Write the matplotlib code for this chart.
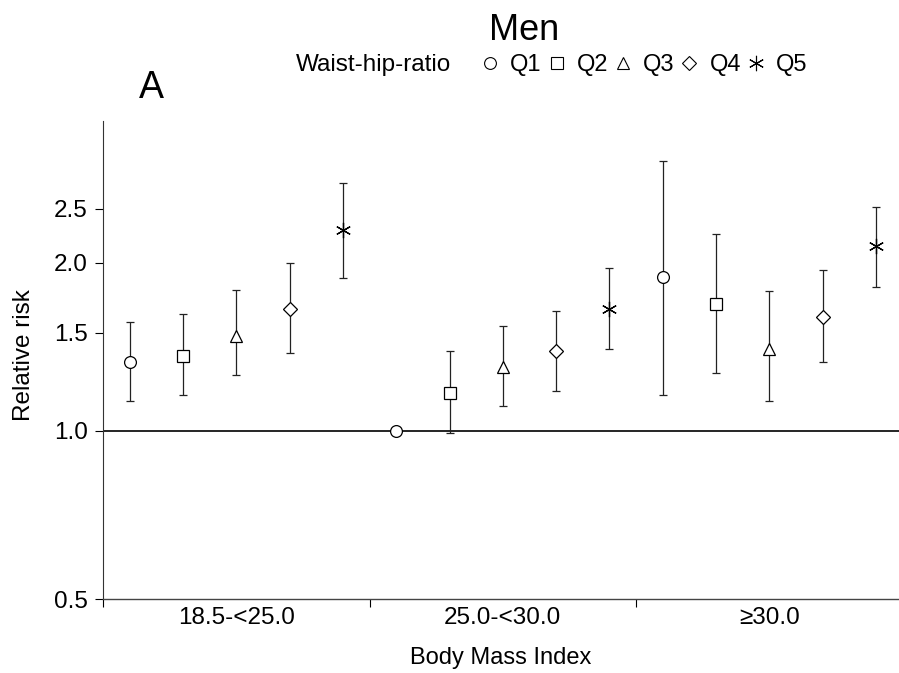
import matplotlib
matplotlib.use('Agg')
import matplotlib.pyplot as plt
from matplotlib.lines import Line2D
from matplotlib.ticker import FixedLocator, NullFormatter, FixedFormatter

plt.rcParams['font.family'] = ['Liberation Sans', 'DejaVu Sans']

# BMI groups and waist-hip-ratio quintiles
bmi_groups = ['18.5-<25.0', '25.0-<30.0', '\u226530.0']
quintiles = ['Q1', 'Q2', 'Q3', 'Q4', 'Q5']

# relative risk per group (rows) and quintile (columns)
rr = [
    [1.33, 1.36, 1.48, 1.65, 2.29],
    [1.00, 1.17, 1.30, 1.39, 1.65],
    [1.89, 1.69, 1.40, 1.60, 2.14],
]
rr_low = [
    [1.13, 1.16, 1.26, 1.38, 1.88],
    [1.00, 0.99, 1.11, 1.18, 1.40],
    [1.16, 1.27, 1.13, 1.33, 1.81],
]
rr_high = [
    [1.57, 1.62, 1.79, 2.00, 2.78],
    [1.00, 1.39, 1.54, 1.64, 1.96],
    [3.04, 2.25, 1.78, 1.94, 2.52],
]

markers = ['o', 's', '^', 'D', (6, 2, 0)]
msizes = [8.5, 8.5, 9, 7, 11]

y_ticks = [0.5, 1.0, 1.5, 2.0, 2.5]
y_labels = ['0.5', '1.0', '1.5', '2.0', '2.5']

fig = plt.figure(figsize=(8.99, 6.73), dpi=100)
ax = fig.add_axes([103 / 899, 1 - 599 / 673, 1 - 103 / 899, (599 - 121) / 673])

ax.axhline(1.0, color='black', lw=1.2, zorder=1)

for g in range(len(bmi_groups)):
    for q in range(len(quintiles)):
        x = g * len(quintiles) + q + 0.5
        y = rr[g][q]
        lo = y - rr_low[g][q]
        hi = rr_high[g][q] - y
        has_err = (lo > 0) or (hi > 0)
        ax.errorbar([x], [y], yerr=[[lo], [hi]] if has_err else None,
                    fmt='none', ecolor='#222222', elinewidth=0.9,
                    capsize=3, capthick=0.9, zorder=2)
        ax.plot([x], [y], marker=markers[q], ms=msizes[q], mfc='white',
                 mec='black', mew=0.9, ls='none', zorder=3)

ax.set_yscale('log')
ax.set_ylim(0.5, 3.59)
ax.set_xlim(0, 14.93)

ax.yaxis.set_major_locator(FixedLocator(y_ticks))
ax.yaxis.set_major_formatter(FixedFormatter(y_labels))
ax.yaxis.set_minor_locator(FixedLocator([]))
ax.yaxis.set_minor_formatter(NullFormatter())

ax.xaxis.set_major_locator(FixedLocator([0, 5, 10, 15]))
ax.xaxis.set_major_formatter(NullFormatter())
ax.xaxis.set_minor_locator(FixedLocator([2.5, 7.5, 12.5]))
ax.xaxis.set_minor_formatter(FixedFormatter(bmi_groups))

ax.tick_params(axis='y', which='major', length=6, width=0.8, pad=5, labelsize=17.5)
ax.tick_params(axis='x', which='major', length=6, width=0.8)
ax.tick_params(axis='x', which='minor', length=0, pad=6, labelsize=17.5)

for side in ['top', 'right']:
    ax.spines[side].set_visible(False)
ax.spines['left'].set_color('#333333')
ax.spines['bottom'].set_color('#444444')
ax.spines['left'].set_linewidth(0.8)
ax.spines['bottom'].set_linewidth(1.0)

ax.set_ylabel('Relative risk', fontsize=17.5)
ax.yaxis.set_label_coords(-0.085, 0.51)
ax.set_xlabel('Body Mass Index', fontsize=17, labelpad=13)

fig.text(524 / 899, 1 - 31 / 673, 'Men', ha='center', va='center', fontsize=26)
fig.text(151 / 899, 1 - 88 / 673, 'A', ha='center', va='center', fontsize=27)
fig.text(296 / 899, 1 - 65 / 673, 'Waist-hip-ratio', ha='left', va='center', fontsize=17.5)

handles = [Line2D([], [], marker=markers[i], ms=msizes[i], mfc='white',
                  mec='black', mew=0.8, ls='none') for i in range(len(quintiles))]
fig.legend(handles, quintiles, loc='center left', bbox_to_anchor=(483 / 899, 1 - 65 / 673),
           ncol=5, frameon=False, fontsize=17, handlelength=0.6, handletextpad=0.55,
           columnspacing=0.33, borderpad=0, borderaxespad=0)

fig.savefig('out.png', dpi=100)
